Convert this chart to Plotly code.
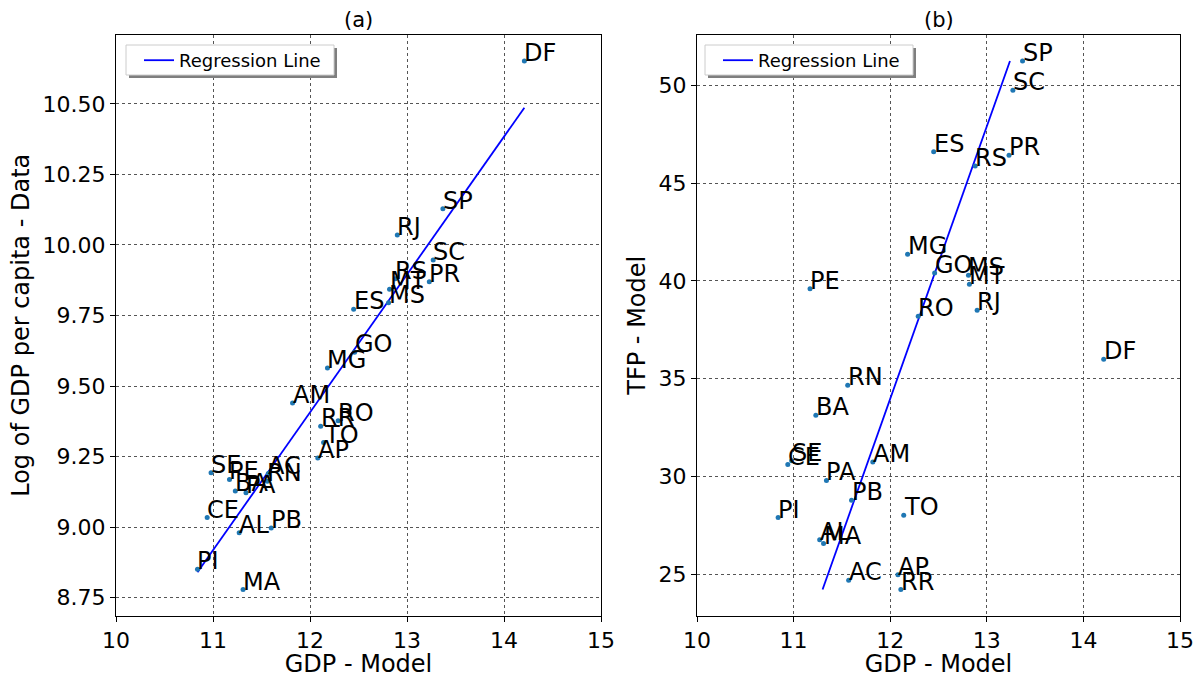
import numpy as np
import plotly.graph_objects as go

states = ["AC", "AL", "AM", "AP", "BA", "CE", "DF", "ES", "GO", "MA", "MG", "MS", "MT", "PA",
          "PB", "PE", "PI", "PR", "RJ", "RN", "RO", "RR", "RS", "SC", "SE", "SP", "TO"]
gdp_model = [11.57, 11.27, 11.82, 12.08, 11.23, 10.94, 14.21, 12.45, 12.46, 11.31, 12.18, 12.81, 12.82, 11.34,
             11.60, 11.17, 10.84, 13.23, 12.90, 11.56, 12.29, 12.11, 12.88, 13.27, 10.98, 13.37, 12.14]
log_gdp_data = [9.19, 8.98, 9.44, 9.245, 9.128, 9.034, 10.652, 9.772, 9.62, 8.779, 9.564, 9.795, 9.843, 9.122,
                8.997, 9.169, 8.851, 9.870, 10.035, 9.163, 9.377, 9.358, 9.88, 9.947, 9.193, 10.128, 9.30]
tfp_model = [24.69, 26.77, 30.74, 24.98, 33.13, 30.61, 35.99, 46.60, 40.40, 26.57, 41.36, 40.29, 39.83, 29.80,
             28.78, 39.60, 27.90, 46.42, 38.50, 34.66, 38.19, 24.22, 45.87, 49.74, 30.80, 51.24, 28.02]

# regression coefficients
reg_a_intercept, reg_a_slope = 3.546, 0.4884      # log_gdp = a + b * gdp
reg_b_intercept, reg_b_slope = 9.561, 0.0718      # gdp = c + d * tfp

x_ticks = [10, 11, 12, 13, 14, 15]
ya_ticks = [8.75, 9.00, 9.25, 9.50, 9.75, 10.00, 10.25, 10.50]
yb_ticks = [25, 30, 35, 40, 45, 50]

FONT = "DejaVu Sans"
W, H = 1203, 678

gx = np.array(gdp_model)
ya = np.array(log_gdp_data)
tb = np.array(tfp_model)

xs_a = np.sort(gx)
ys_a = reg_a_intercept + reg_a_slope * xs_a
ys_b = np.sort(tb)
xs_b = reg_b_intercept + reg_b_slope * ys_b

fig = go.Figure()
fig.add_trace(go.Scatter(x=xs_a, y=ys_a, mode="lines", line=dict(color="#0000ff", width=1.8),
                         name="Regression Line", xaxis="x", yaxis="y", legend="legend"))
fig.add_trace(go.Scatter(x=gx, y=ya, mode="markers", marker=dict(color="#1f77b4", size=5),
                         showlegend=False, xaxis="x", yaxis="y"))
fig.add_trace(go.Scatter(x=xs_b, y=ys_b, mode="lines", line=dict(color="#0000ff", width=1.8),
                         name="Regression Line", xaxis="x2", yaxis="y2", legend="legend2"))
fig.add_trace(go.Scatter(x=gx, y=tb, mode="markers", marker=dict(color="#1f77b4", size=5),
                         showlegend=False, xaxis="x2", yaxis="y2"))

LBL = 24
annotations = []
for s, x, y in zip(states, gx, ya):
    annotations.append(dict(x=x, y=y, xref="x", yref="y", text=s, showarrow=False,
                            xanchor="left", yanchor="bottom", xshift=-2, yshift=-8,
                            font=dict(family=FONT, size=LBL, color="black")))
for s, x, y in zip(states, gx, tb):
    annotations.append(dict(x=x, y=y, xref="x2", yref="y2", text=s, showarrow=False,
                            xanchor="left", yanchor="bottom", xshift=-2, yshift=-8,
                            font=dict(family=FONT, size=LBL, color="black")))

dom_y = [1 - 616 / H, 1 - 34.5 / H]
dom_xa = [116 / W, 601 / W]
dom_xb = [697 / W, 1180 / W]

for title, dom in (("(a)", dom_xa), ("(b)", dom_xb)):
    annotations.append(dict(x=(dom[0] + dom[1]) / 2, y=dom_y[1], xref="paper", yref="paper",
                            text=title, showarrow=False, xanchor="center", yanchor="bottom",
                            yshift=1, font=dict(family=FONT, size=21, color="black")))

# legend frames with drop shadow (matplotlib style)
shapes = []
for left in (126, 705):
    x0, x1, y0, y1 = left, left + 208, 45, 75
    shapes.append(dict(type="rect", xref="paper", yref="paper", layer="above",
                       x0=(x0 + 3) / W, x1=(x1 + 3) / W, y0=1 - (y1 + 3) / H, y1=1 - (y0 + 3) / H,
                       fillcolor="#7f7f7f", line=dict(width=0)))
    shapes.append(dict(type="rect", xref="paper", yref="paper", layer="above",
                       x0=x0 / W, x1=x1 / W, y0=1 - y1 / H, y1=1 - y0 / H,
                       fillcolor="white", line=dict(color="#cccccc", width=1)))

axis_common = dict(showline=True, linecolor="black", linewidth=1, mirror=True,
                   ticks="outside", ticklen=5, tickcolor="black", tickwidth=1,
                   showgrid=True, gridcolor="#555555", griddash="dot", gridwidth=1,
                   zeroline=False, automargin=False,
                   tickfont=dict(family=FONT, size=22, color="black"))

ya_lo = min(log_gdp_data) - 0.05 * (max(log_gdp_data) - min(log_gdp_data))
ya_hi = max(log_gdp_data) + 0.05 * (max(log_gdp_data) - min(log_gdp_data))
yb_lo = min(tfp_model) - 0.05 * (max(tfp_model) - min(tfp_model))
yb_hi = max(tfp_model) + 0.05 * (max(tfp_model) - min(tfp_model))

TT = 24
fig.update_layout(
    width=W, height=H, margin=dict(l=0, r=0, t=0, b=0, autoexpand=False),
    paper_bgcolor="white", plot_bgcolor="white",
    font=dict(family=FONT, color="black"),
    xaxis=dict(domain=dom_xa, range=[10, 15], tickvals=x_ticks, anchor="y",
               title=dict(text="GDP - Model", font=dict(family=FONT, size=TT), standoff=2), **axis_common),
    yaxis=dict(domain=dom_y, range=[ya_lo, ya_hi], tickvals=ya_ticks, tickformat=".2f", anchor="x",
               title=dict(text="Log of GDP per capita - Data", font=dict(family=FONT, size=TT), standoff=6),
               **axis_common),
    xaxis2=dict(domain=dom_xb, range=[10, 15], tickvals=x_ticks, anchor="y2",
                title=dict(text="GDP - Model", font=dict(family=FONT, size=TT), standoff=2), **axis_common),
    yaxis2=dict(domain=dom_y, range=[yb_lo, yb_hi], tickvals=yb_ticks, anchor="x2",
                title=dict(text="TFP - Model", font=dict(family=FONT, size=TT), standoff=6),
                **axis_common),
    legend=dict(x=139 / W, y=1 - 42 / H, xanchor="left", yanchor="top",
                bgcolor="rgba(0,0,0,0)", borderwidth=0,
                font=dict(family=FONT, size=18, color="black")),
    legend2=dict(x=718 / W, y=1 - 42 / H, xanchor="left", yanchor="top",
                 bgcolor="rgba(0,0,0,0)", borderwidth=0,
                 font=dict(family=FONT, size=18, color="black")),
    annotations=annotations,
    shapes=shapes,
)

fig.write_html("out.html")
